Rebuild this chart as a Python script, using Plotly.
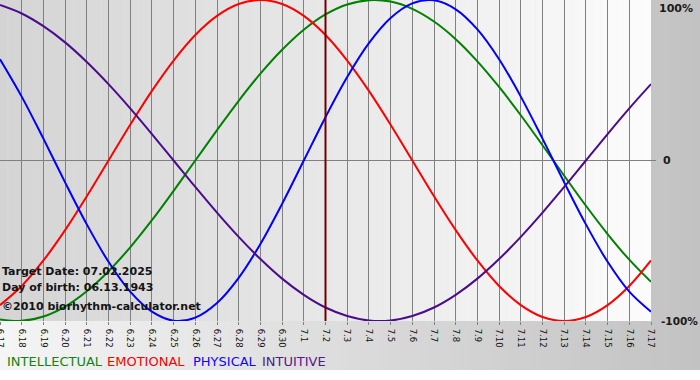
import plotly.graph_objects as go

# ---------------- data ----------------
day_labels = ["6.17", "6.18", "6.19", "6.20", "6.21", "6.22", "6.23", "6.24", "6.25", "6.26",
              "6.27", "6.28", "6.29", "6.30", "7.1", "7.2", "7.3", "7.4", "7.5", "7.6",
              "7.7", "7.8", "7.9", "7.10", "7.11", "7.12", "7.13", "7.14", "7.15", "7.16", "7.17"]
day_index = list(range(len(day_labels)))

intellectual = [-99.0, -99.9, -97.2, -91.0, -81.5, -69.0, -54.1, -37.2, -18.9, 0.0,
                18.9, 37.2, 54.1, 69.0, 81.5, 91.0, 97.2, 99.9, 99.0, 94.5,
                86.6, 75.6, 61.8, 45.8, 28.2, 9.5, -9.5, -28.2, -45.8, -61.8, -75.6]
emotional = [-90.1, -78.2, -62.3, -43.4, -22.3, 0.0, 22.3, 43.4, 62.3, 78.2,
             90.1, 97.5, 100.0, 97.5, 90.1, 78.2, 62.3, 43.4, 22.3, 0.0,
             -22.3, -43.4, -62.3, -78.2, -90.1, -97.5, -100.0, -97.5, -90.1, -78.2, -62.3]
physical = [63.1, 39.8, 13.6, -13.6, -39.8, -63.1, -81.7, -94.2, -99.8, -97.9,
            -88.8, -73.1, -52.0, -27.0, 0.0, 27.0, 52.0, 73.1, 88.8, 97.9,
            99.8, 94.2, 81.7, 63.1, 39.8, 13.6, -13.6, -39.8, -63.1, -81.7, -94.2]
intuitive = [96.9, 91.6, 83.7, 73.6, 61.4, 47.6, 32.5, 16.5, 0.0, -16.5,
             -32.5, -47.6, -61.4, -73.6, -83.7, -91.6, -96.9, -99.7, -99.7, -96.9,
             -91.6, -83.7, -73.6, -61.4, -47.6, -32.5, -16.5, 0.0, 16.5, 32.5, 47.6]

series_names = ["INTELLECTUAL", "EMOTIONAL", "PHYSICAL", "INTUITIVE"]
target_label = "7.2"
y_labels = ["100%", "0", "-100%"]
info_lines = ["Target Date: 07.02.2025", "Day of birth: 06.13.1943", "\u00a92010 biorhythm-calculator.net"]

# ---------------- geometry helpers ----------------
W, H = 700, 380
ML, MR, MT, MB = 0, 49, 0, 59
PW, PH = W - ML - MR, H - MT - MB


def px(x):
    return (x - ML) / PW


def py(y):
    return (MT + PH - y) / PH


def gray(v):
    v = int(round(v))
    return f"rgb({v},{v},{v})"


line_colors = ["#008000", "#ff0000", "#0000ff", "#4b0c8c"]
text_colors = ["#128212", "#f80000", "#0a0af5", "#55168e"]

fig = go.Figure()
for name, vals, col in zip(series_names, [intellectual, emotional, physical, intuitive], line_colors):
    fig.add_trace(go.Scatter(x=day_index, y=vals, mode="lines", name=name,
                             line=dict(color=col, width=2, shape="spline", smoothing=1.0),
                             hoverinfo="skip", showlegend=False))

shapes = []
# outer background gradient (light left -> gray right), above white bottom strip
N = 70
for k in range(N):
    x0 = k * W / N
    x1 = (k + 1) * W / N + 0.6
    v = 245 - (245 - 194) * (k + 0.5) / N
    shapes.append(dict(type="rect", xref="paper", yref="paper",
                       x0=px(x0), x1=px(x1), y0=py(370), y1=py(0),
                       fillcolor=gray(v), line=dict(width=0), layer="below"))
# plot area gradient (gray left -> white right)
N2 = 90
for k in range(N2):
    x0 = k * 30 / N2
    x1 = (k + 1) * 30 / N2 + 0.02
    v = 212 - (212 - 252) * (k + 0.5) / N2
    shapes.append(dict(type="rect", xref="x", yref="paper",
                       x0=x0, x1=min(x1, 30), y0=0, y1=1,
                       fillcolor=gray(v), line=dict(width=0), layer="below"))
# zero line extending slightly beyond plot
shapes.append(dict(type="line", xref="paper", yref="y", x0=0, x1=px(656), y0=0, y1=0,
                   line=dict(color="#808080", width=1), layer="below"))
# target date marker
shapes.append(dict(type="line", xref="x", yref="paper", x0=day_labels.index(target_label),
                   x1=day_labels.index(target_label), y0=0, y1=1, opacity=1,
                   line=dict(color="#700000", width=2), layer="above"))

annotations = []
# right-hand percentage labels
annotations.append(dict(x=px(657), y=py(0), xref="paper", yref="paper", text=y_labels[0],
                        showarrow=False, xanchor="left", yanchor="top",
                        font=dict(family="DejaVu Sans", size=11, color="#1a1a1a", weight="bold")))
annotations.append(dict(x=px(661), y=py(160.5), xref="paper", yref="paper", text=y_labels[1],
                        showarrow=False, xanchor="left", yanchor="middle",
                        font=dict(family="DejaVu Sans", size=11, color="#1a1a1a", weight="bold")))
annotations.append(dict(x=px(700), y=py(321), xref="paper", yref="paper", text=y_labels[2],
                        showarrow=False, xanchor="right", yanchor="middle",
                        font=dict(family="DejaVu Sans", size=10.5, color="#1a1a1a", weight="bold")))
# info texts
for t, yy in zip(info_lines, [271, 287, 306]):
    annotations.append(dict(x=px(0), y=py(yy), xref="paper", yref="paper", text=t,
                            showarrow=False, xanchor="left", yanchor="middle",
                            font=dict(family="DejaVu Sans", size=11, color="#141414", weight="bold")))
# legend words
for t, xx, col in zip(series_names, [5, 105, 191, 260], text_colors):
    annotations.append(dict(x=px(xx), y=py(361), xref="paper", yref="paper", text=t,
                            showarrow=False, xanchor="left", yanchor="middle",
                            font=dict(family="DejaVu Sans", size=13, color=col)))

fig.update_layout(
    width=W, height=H,
    margin=dict(l=ML, r=MR, t=MT, b=MB, pad=0, autoexpand=False),
    paper_bgcolor="white",
    plot_bgcolor="rgba(0,0,0,0)",
    shapes=shapes,
    annotations=annotations,
    showlegend=False,
    xaxis=dict(range=[0, 30], tickvals=day_index, ticktext=day_labels, tickangle=90,
               showgrid=True, gridcolor="#808080", gridwidth=1, zeroline=False,
               showline=False, ticks="outside", ticklen=3, tickcolor="#808080",
               ticklabelstandoff=2, ticklabeloverflow="allow",
               tickfont=dict(family="DejaVu Sans", size=8.5, color="#111111"),
               automargin=False, fixedrange=True),
    yaxis=dict(range=[-100, 100], showgrid=False, zeroline=False, showticklabels=False,
               showline=False, automargin=False, fixedrange=True),
)

fig.write_html("out.html", config={"displayModeBar": False, "staticPlot": True},
               post_script="document.body.style.margin='0';document.body.style.overflow='hidden';")
